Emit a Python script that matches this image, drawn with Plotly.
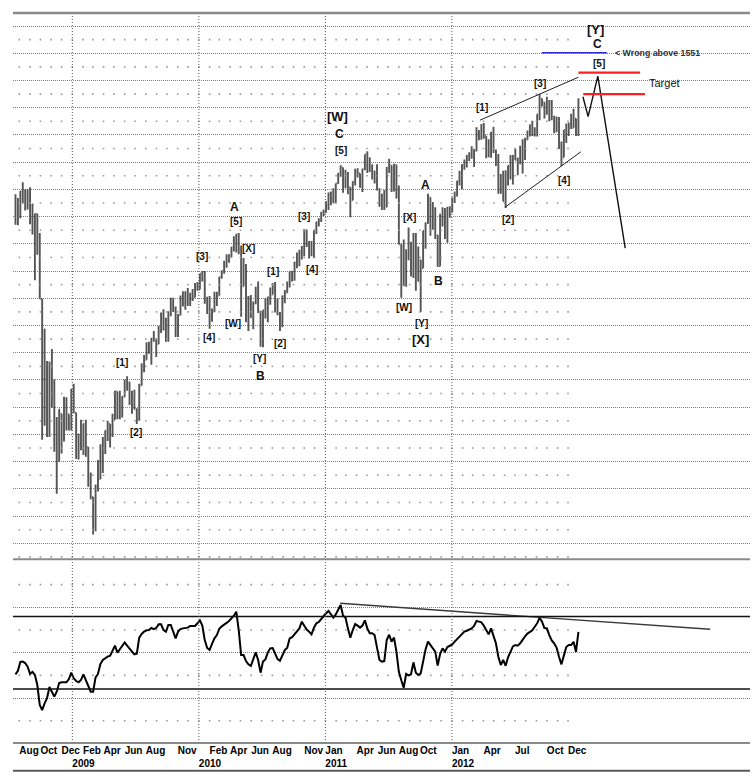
import numpy as np
import pandas as pd
import plotly.graph_objects as go

# ---------------- data (weekly S&P 500 bars, Monday of each week) ----------------
weeks = pd.date_range("2008-07-21", periods=233, freq="7D")

spx_open = [
    1261, 1257, 1260, 1296, 1298, 1291, 1283, 1242, 1252, 1255, 1213, 1099, 899, 941, 875, 968, 930, 873, 801, 888, 877, 879, 887, 872,
    931, 890, 850, 832, 826, 869, 827, 770, 735, 683, 756, 768, 816, 843, 857, 869, 866, 877, 929, 882, 887, 919, 940, 946, 918, 919, 896, 880, 940, 979, 987, 1010, 998, 1026, 1025, 1016, 1042, 1068, 1044, 1026, 1071, 1088, 1080, 1036, 1069, 1094, 1091, 1091, 1106, 1107, 1102, 1127,
    1116, 1145, 1136, 1092, 1074, 1066, 1075, 1110, 1105, 1139, 1150, 1160, 1167, 1179, 1194, 1192, 1217, 1188, 1122, 1136, 1088, 1088, 1065, 1092, 1117, 1076, 1022, 1078, 1065, 1102, 1107, 1122, 1079, 1071, 1065, 1104, 1110, 1126, 1149, 1147, 1166, 1177, 1183, 1185, 1225, 1199, 1200, 1190, 1225, 1240, 1244, 1257,
    1258, 1272, 1293, 1283, 1276, 1311, 1329, 1340, 1321, 1322, 1304, 1280, 1314, 1332, 1329, 1319, 1338, 1365, 1340, 1338, 1333, 1331, 1300, 1271, 1271, 1268, 1340, 1344, 1316, 1345, 1292, 1199, 1178, 1124, 1177, 1174, 1154, 1216, 1136, 1131, 1155, 1224, 1238, 1285, 1253, 1263, 1216, 1159, 1244, 1255, 1219, 1265,
    1258, 1278, 1289, 1315, 1316, 1345, 1343, 1362, 1366, 1370, 1371, 1404, 1397, 1408, 1398, 1370, 1378, 1403, 1369, 1353, 1295, 1317, 1278, 1325, 1343, 1335, 1362, 1354, 1357, 1362, 1386, 1391, 1406, 1418, 1411, 1407, 1438, 1466, 1460, 1441, 1461, 1429, 1433, 1412, 1414, 1380, 1359, 1409, 1416, 1418, 1413, 1430, 1402,
]
spx_high = [
    1291, 1284, 1297, 1313, 1300, 1300, 1304, 1274, 1255, 1255, 1220, 1099, 1044, 985, 984, 1007, 951, 882, 896, 888, 919, 918, 887, 934,
    943, 890, 851, 877, 870, 877, 827, 780, 735, 758, 803, 832, 845, 857, 875, 869, 888, 930, 929, 930, 920, 951, 957, 946, 930, 932, 898, 943, 980, 996, 1019, 1020, 1027, 1040, 1025, 1049, 1074, 1080, 1064, 1076, 1101, 1101, 1085, 1071, 1105, 1113, 1113, 1119, 1110, 1117, 1128, 1130,
    1145, 1150, 1150, 1103, 1104, 1081, 1112, 1112, 1139, 1151, 1169, 1181, 1181, 1194, 1214, 1218, 1220, 1197, 1174, 1163, 1104, 1106, 1094, 1121, 1131, 1077, 1078, 1100, 1103, 1120, 1128, 1130, 1100, 1075, 1105, 1115, 1131, 1149, 1150, 1167, 1184, 1189, 1196, 1227, 1226, 1205, 1205, 1225, 1240, 1247, 1259, 1263,
    1278, 1294, 1296, 1302, 1311, 1330, 1344, 1340, 1336, 1332, 1304, 1315, 1338, 1339, 1329, 1338, 1364, 1370, 1359, 1346, 1334, 1346, 1302, 1292, 1299, 1341, 1356, 1344, 1347, 1345, 1307, 1199, 1208, 1190, 1230, 1204, 1220, 1220, 1195, 1171, 1224, 1239, 1292, 1285, 1277, 1267, 1216, 1255, 1267, 1266, 1268, 1269,
    1285, 1296, 1316, 1334, 1346, 1355, 1363, 1368, 1379, 1374, 1414, 1409, 1420, 1422, 1398, 1392, 1406, 1415, 1373, 1365, 1328, 1334, 1335, 1344, 1363, 1363, 1374, 1358, 1380, 1392, 1395, 1408, 1419, 1426, 1414, 1438, 1475, 1467, 1460, 1470, 1464, 1464, 1435, 1434, 1433, 1388, 1409, 1421, 1423, 1439, 1448, 1430, 1467,
]
spx_low = [
    1235, 1234, 1247, 1274, 1261, 1263, 1236, 1217, 1133, 1180, 1099, 840, 866, 845, 845, 899, 818, 741, 800, 815, 837, 857, 857, 857,
    889, 805, 804, 821, 812, 809, 754, 731, 666, 672, 745, 768, 779, 814, 838, 826, 845, 877, 878, 878, 881, 919, 930, 904, 888, 896, 869, 875, 940, 964, 987, 998, 978, 1020, 992, 1016, 1036, 1041, 1020, 1020, 1067, 1075, 1029, 1029, 1069, 1085, 1079, 1086, 1086, 1095, 1102, 1114,
    1116, 1131, 1090, 1071, 1044, 1057, 1075, 1086, 1105, 1136, 1145, 1156, 1165, 1175, 1186, 1184, 1181, 1066, 1122, 1056, 1040, 1064, 1043, 1089, 1073, 1011, 1010, 1063, 1056, 1088, 1107, 1074, 1069, 1040, 1047, 1091, 1110, 1120, 1131, 1132, 1155, 1159, 1171, 1177, 1194, 1173, 1177, 1174, 1218, 1232, 1240, 1251,
    1257, 1262, 1271, 1275, 1276, 1310, 1323, 1294, 1302, 1291, 1249, 1280, 1307, 1322, 1303, 1295, 1335, 1330, 1332, 1318, 1311, 1298, 1268, 1262, 1262, 1267, 1330, 1295, 1296, 1283, 1199, 1101, 1123, 1121, 1170, 1140, 1137, 1114, 1131, 1075, 1155, 1191, 1237, 1215, 1226, 1209, 1158, 1159, 1232, 1209, 1202, 1248,
    1258, 1275, 1287, 1307, 1300, 1336, 1340, 1352, 1356, 1341, 1370, 1390, 1391, 1393, 1357, 1359, 1358, 1367, 1343, 1292, 1292, 1278, 1266, 1307, 1318, 1309, 1354, 1326, 1346, 1329, 1354, 1391, 1397, 1398, 1397, 1397, 1427, 1452, 1430, 1437, 1425, 1427, 1403, 1405, 1374, 1343, 1359, 1385, 1398, 1411, 1413, 1398, 1398,
]
spx_close = [
    1257, 1260, 1296, 1298, 1292, 1283, 1242, 1252, 1255, 1213, 1099, 899, 940, 877, 968, 930, 873, 800, 896, 876, 879, 887, 872, 932,
    890, 851, 832, 826, 869, 827, 770, 735, 683, 756, 768, 816, 843, 857, 870, 866, 877, 929, 882, 887, 919, 940, 946, 921, 918, 896, 880, 940, 979, 987, 1010, 1004, 1026, 1029, 1016, 1042, 1068, 1044, 1025, 1071, 1087, 1080, 1036, 1069, 1093, 1091, 1091, 1106, 1106, 1102, 1126, 1115,
    1145, 1136, 1092, 1074, 1066, 1075, 1109, 1105, 1139, 1150, 1160, 1167, 1179, 1194, 1192, 1217, 1187, 1111, 1136, 1088, 1089, 1065, 1092, 1117, 1076, 1022, 1078, 1065, 1102, 1102, 1122, 1079, 1071, 1065, 1104, 1110, 1126, 1149, 1147, 1166, 1177, 1183, 1183, 1225, 1199, 1200, 1190, 1225, 1240, 1244, 1257, 1258,
    1272, 1293, 1283, 1276, 1311, 1329, 1343, 1320, 1321, 1304, 1279, 1314, 1332, 1329, 1320, 1337, 1364, 1340, 1338, 1333, 1331, 1300, 1271, 1271, 1268, 1340, 1344, 1316, 1345, 1292, 1199, 1178, 1124, 1177, 1174, 1154, 1216, 1136, 1131, 1155, 1224, 1238, 1285, 1253, 1263, 1216, 1159, 1244, 1255, 1219, 1265, 1258,
    1278, 1289, 1315, 1316, 1345, 1343, 1362, 1366, 1370, 1371, 1404, 1397, 1408, 1398, 1370, 1378, 1403, 1369, 1353, 1295, 1317, 1278, 1325, 1343, 1335, 1362, 1354, 1357, 1362, 1386, 1391, 1406, 1418, 1411, 1407, 1438, 1466, 1460, 1441, 1461, 1429, 1433, 1412, 1414, 1380, 1359, 1409, 1416, 1418, 1413, 1430, 1402, 1466,
]
# oscillator (RSI-type, 0-100), read week by week from the lower panel
osc = [
    38.1, 40.0, 44.9, 45.1, 44.3, 42.3, 38.4, 39.4, 37.7, 32.2, 21.2, 18.4, 22.1, 24.9, 31.1, 28.5, 25.8, 28.5, 33.3, 33.7, 33.7, 33.7, 35.5, 39.0,
    35.9, 34.4, 33.7, 35.0, 38.1, 35.0, 31.8, 28.5, 28.5, 36.4, 38.3, 43.8, 46.0, 47.1, 47.8, 48.4, 51.3, 53.9, 50.0, 52.0, 54.2, 55.7, 53.9, 52.4, 51.1, 49.1, 49.5, 58.3, 60.3, 61.6, 62.3, 62.5, 63.6, 63.0, 63.6, 65.6, 65.6, 62.5, 61.6, 65.3, 65.3, 61.6, 57.9, 61.6, 63.0, 63.4, 63.4, 63.8, 64.7, 64.9, 64.7, 66.2,
    67.8, 65.0, 57.0, 52.6, 51.5, 54.8, 57.9, 59.7, 63.2, 64.5, 65.3, 66.4, 67.5, 68.7, 70.4, 72.6, 62.5, 48.7, 48.7, 45.4, 43.6, 42.7, 46.0, 50.2, 46.0, 39.0, 45.1, 46.3, 50.2, 52.4, 52.6, 49.6, 46.5, 45.6, 48.2, 51.5, 52.8, 57.9, 58.6, 60.1, 62.0, 63.4, 67.1, 64.9, 62.7, 61.6, 60.1, 63.8, 66.2, 66.9, 68.6, 70.2,
    71.7, 73.0, 71.1, 69.3, 71.1, 74.1, 76.3, 70.4, 69.3, 63.4, 58.3, 62.5, 65.8, 64.9, 63.8, 64.9, 67.8, 63.4, 60.7, 60.7, 59.7, 52.8, 46.0, 45.1, 45.4, 57.0, 59.9, 56.1, 58.3, 50.6, 39.5, 34.8, 30.7, 38.3, 37.5, 38.1, 44.7, 39.0, 37.7, 38.6, 46.0, 51.8, 56.1, 54.2, 52.4, 50.6, 42.9, 49.3, 52.4, 50.6, 53.1, 53.9,
    54.6, 56.1, 57.4, 58.6, 60.1, 61.6, 62.1, 62.9, 63.4, 64.7, 67.5, 67.1, 66.7, 64.9, 62.5, 60.1, 63.4, 59.7, 55.2, 47.8, 43.2, 46.0, 42.8, 47.5, 50.5, 53.5, 54.2, 53.9, 55.2, 57.4, 59.0, 60.5, 61.6, 62.3, 64.3, 66.2, 69.3, 67.1, 63.6, 63.4, 59.7, 56.8, 55.2, 52.8, 47.8, 43.6, 48.4, 53.1, 54.2, 54.2, 56.0, 50.5, 61.5,
]
for arr in (spx_open, spx_high, spx_low, spx_close, osc):
    assert len(arr) == len(weeks), len(arr)

# oscillator resistance trendline
osc_trend_dates = ["2011-02-13", "2014-01-15"]
osc_trend_vals = [77.2, 62.9]
osc_levels = [70, 30]

# ending-diagonal wedge lines
wedge_up_dates = ["2012-03-22", "2012-12-31"]
wedge_up_vals = [1427, 1506]
wedge_dn_dates = ["2012-06-02", "2013-01-07"]
wedge_dn_vals = [1267, 1369]

# projected path
proj_dates = ["2013-01-13", "2013-01-28", "2013-02-25", "2013-05-15"]
proj_vals = [1470, 1433.5, 1508, 1192]

# target zone and invalidation level
target_hi_dates = ["2012-12-31", "2013-06-27"]
target_hi = 1514.3
target_lo_dates = ["2013-01-14", "2013-07-11"]
target_lo = 1475
wrong_dates = ["2012-09-16", "2013-03-23"]
wrong_level = 1551

# wave labels
wave_text = ["[1]", "[2]", "[3]", "[4]", "A", "[5]", "[X]", "[W]", "[Y]", "B",
             "[1]", "[2]", "[3]", "[4]", "[W]", "C", "[5]", "A", "[X]", "B",
             "[W]", "[Y]", "[X]", "[1]", "[3]", "[2]", "[4]", "[5]", "C", "[Y]"]
wave_date = ["2009-05-23", "2009-07-03", "2010-01-09", "2010-01-31", "2010-04-15", "2010-04-18",
             "2010-05-24", "2010-04-10", "2010-06-26", "2010-06-29", "2010-08-02", "2010-08-23",
             "2010-11-01", "2010-11-22", "2011-02-05", "2011-02-10", "2011-02-14", "2011-10-18",
             "2011-08-31", "2011-11-24", "2011-08-15", "2011-10-06", "2011-10-03", "2012-03-27",
             "2012-09-12", "2012-06-12", "2012-11-20", "2013-02-27", "2013-02-23", "2013-02-19"]
wave_price = [981.7, 853.2, 1176.4, 1027.7, 1267.1, 1240.7, 1191.8, 1054.1, 989.8, 957.3,
              1148.8, 1017.4, 1249.8, 1152.0, 1433.5, 1401.1, 1372.3, 1308.0, 1248.0, 1131.8,
              1082.7, 1054.1, 1023.4, 1450.7, 1494.8, 1243.8, 1317.2, 1531.5, 1566.4, 1593.9]
wave_size = [10, 10, 10, 10, 12, 10, 10, 10, 10, 12,
             10, 10, 10, 10, 13, 12, 10, 12, 10, 12,
             10, 10, 13, 10, 10, 10, 10, 10, 12, 13]

# x-axis ticks
month_ticks = ["2008-08-01", "2008-10-01", "2008-12-01", "2009-01-01", "2009-02-01", "2009-04-01",
               "2009-06-01", "2009-08-01", "2009-11-01", "2010-01-01", "2010-02-01", "2010-04-01",
               "2010-06-01", "2010-08-01", "2010-11-01", "2011-01-01", "2011-04-01", "2011-06-01",
               "2011-08-01", "2011-10-01", "2012-01-01", "2012-04-01", "2012-07-01", "2012-10-01",
               "2012-12-01"]
month_labels = ["Aug", "Oct", "Dec", "\u00a0<br>2009", "Feb", "Apr", "Jun", "Aug", "Nov", "\u00a0<br>2010",
                "Feb", "Apr", "Jun", "Aug", "Nov", "Jan<br>2011", "Apr", "Jun", "Aug", "Oct",
                "Jan<br>2012", "Apr", "Jul", "Oct", "Dec"]
year_lines = ["2009-01-01", "2010-01-01", "2011-01-01", "2012-01-01"]

# ---------------- figure ----------------
FONT = "Arial, Liberation Sans, sans-serif"
W, H = 753, 780
M_L, M_R, M_T, M_B = 13, 3, 13, 37
SPLIT = 0.25164
X_RANGE = ["2008-07-13 20:00", "2014-05-10"]
P_RANGE = [620.6, 1623.9]
O_RANGE = [0.28, 101.43]

fig = go.Figure()

# sparse monthly dot grid
months = pd.date_range("2008-08-01", "2012-12-01", freq="MS")
p_minor = np.arange(625, 1600, 50)
o_minor = [12.5, 37.5, 62.5, 87.5]
fig.add_trace(go.Scatter(
    x=[m for lv in p_minor for m in months], y=[lv for lv in p_minor for m in months],
    mode="markers", marker=dict(size=1.6, color="#9a9a9a", symbol="square", line=dict(width=0)),
    hoverinfo="skip", xaxis="x", yaxis="y"))
fig.add_trace(go.Scatter(
    x=[m for lv in o_minor for m in months], y=[lv for lv in o_minor for m in months],
    mode="markers", marker=dict(size=1.6, color="#9a9a9a", symbol="square", line=dict(width=0)),
    hoverinfo="skip", xaxis="x2", yaxis="y2"))

# price bars
fig.add_trace(go.Ohlc(
    x=weeks, open=spx_open, high=spx_high, low=spx_low, close=spx_close,
    increasing=dict(line=dict(color="#555555", width=1.9)),
    decreasing=dict(line=dict(color="#555555", width=1.9)),
    tickwidth=0.4, xaxis="x", yaxis="y"))

# wedge lines
fig.add_trace(go.Scatter(x=wedge_up_dates, y=wedge_up_vals, mode="lines",
                         line=dict(color="#222222", width=1), xaxis="x", yaxis="y"))
fig.add_trace(go.Scatter(x=wedge_dn_dates, y=wedge_dn_vals, mode="lines",
                         line=dict(color="#222222", width=1), xaxis="x", yaxis="y"))
# projection
fig.add_trace(go.Scatter(x=proj_dates, y=proj_vals, mode="lines",
                         line=dict(color="#111111", width=1.4), xaxis="x", yaxis="y"))
# target and invalidation lines
fig.add_trace(go.Scatter(x=target_hi_dates, y=[target_hi, target_hi], mode="lines",
                         line=dict(color="#ff1f1f", width=2.2), xaxis="x", yaxis="y"))
fig.add_trace(go.Scatter(x=target_lo_dates, y=[target_lo, target_lo], mode="lines",
                         line=dict(color="#ff1f1f", width=2.2), xaxis="x", yaxis="y"))
fig.add_trace(go.Scatter(x=wrong_dates, y=[wrong_level, wrong_level], mode="lines",
                         line=dict(color="#2a2ad6", width=1.5), xaxis="x", yaxis="y"))

# oscillator
fig.add_trace(go.Scatter(x=weeks, y=osc, mode="lines",
                         line=dict(color="black", width=2), xaxis="x2", yaxis="y2"))
fig.add_trace(go.Scatter(x=osc_trend_dates, y=osc_trend_vals, mode="lines",
                         line=dict(color="#3a3a3a", width=1.4), xaxis="x2", yaxis="y2"))

shapes = []
# oscillator 70/30 levels
for lv in osc_levels:
    shapes.append(dict(type="line", xref="paper", x0=0, x1=1, yref="y2", y0=lv, y1=lv,
                       line=dict(color="#111111", width=1.5)))
# year separators
for yd in year_lines:
    shapes.append(dict(type="line", xref="x", x0=yd, x1=yd, yref="paper", y0=0, y1=1,
                       line=dict(color="#555555", width=1, dash="1px,2px")))
# frame lines
for yp, col, wd in [(1, "#8a8a8a", 2.5), (SPLIT, "#8a8a8a", 2), (0, "#8a8a8a", 2),
                    (-0.038, "#5a5a5a", 2)]:
    shapes.append(dict(type="line", xref="paper", x0=0, x1=1, yref="paper", y0=yp, y1=yp,
                       line=dict(color=col, width=wd)))

annotations = []
for t, d, p, s in zip(wave_text, wave_date, wave_price, wave_size):
    annotations.append(dict(x=d, y=p, xref="x", yref="y", text="<b>%s</b>" % t,
                            showarrow=False, xanchor="center", yanchor="middle",
                            font=dict(family=FONT, size=s, color="#111111")))
annotations.append(dict(x="2013-04-10", y=wrong_level, xref="x", yref="y",
                        text="<b>< Wrong above 1551</b>", showarrow=False,
                        xanchor="left", yanchor="middle",
                        font=dict(family=FONT, size=8.8, color="#333333")))
annotations.append(dict(x="2013-07-16", y=1495.9, xref="x", yref="y",
                        text="Target", showarrow=False, xanchor="left", yanchor="middle",
                        font=dict(family=FONT, size=11, color="#111111")))

grid_dash = "1px,1px"
fig.update_layout(
    width=W, height=H,
    margin=dict(l=M_L, r=M_R, t=M_T, b=M_B, autoexpand=False),
    paper_bgcolor="white", plot_bgcolor="white",
    showlegend=False, hovermode=False,
    font=dict(family=FONT, color="black"),
    xaxis=dict(domain=[0, 1], anchor="y", type="date", range=X_RANGE,
               showgrid=False, showticklabels=False, zeroline=False, showline=False,
               ticks="", rangeslider=dict(visible=False), automargin=False),
    xaxis2=dict(domain=[0, 1], anchor="y2", type="date", range=X_RANGE, matches="x",
                tickmode="array", tickvals=month_ticks, ticktext=["<b>%s</b>" % t for t in month_labels],
                ticklabelposition="outside right", ticks="", tickangle=0,
                tickfont=dict(family=FONT, size=10, color="black"),
                showgrid=False, zeroline=False, showline=False, automargin=False),
    yaxis=dict(domain=[SPLIT, 1], anchor="x", range=P_RANGE,
               tickmode="array", tickvals=list(range(650, 1601, 50)),
               showticklabels=False, ticks="", showgrid=True, gridcolor="#808080",
               gridwidth=1, griddash=grid_dash, zeroline=False, showline=False, automargin=False),
    yaxis2=dict(domain=[0, SPLIT], anchor="x2", range=O_RANGE,
                tickmode="array", tickvals=[25, 50, 75],
                showticklabels=False, ticks="", showgrid=True, gridcolor="#808080",
                gridwidth=1, griddash=grid_dash, zeroline=False, showline=False, automargin=False),
    shapes=shapes,
    annotations=annotations,
)

# remove the default page margin so the figure sits at the window origin
fig.write_html("out.html", config={"displayModeBar": False, "staticPlot": True},
               post_script="document.body.style.margin='0';document.body.style.overflow='hidden';")
